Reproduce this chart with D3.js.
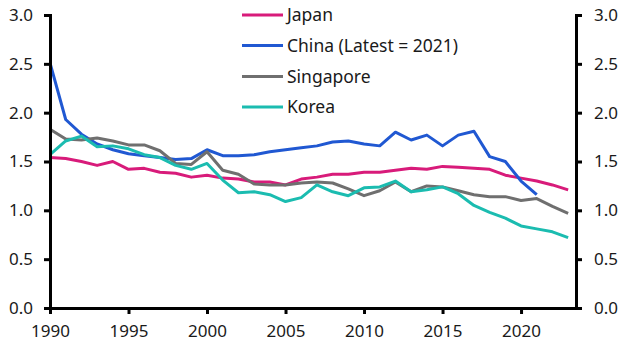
<!DOCTYPE html>
<html><head><meta charset="utf-8">
<script src="https://cdn.jsdelivr.net/npm/d3@7"></script>
<style>
html,body{margin:0;padding:0;background:#fff;}
svg text{font-family:"Noto Sans","Open Sans",sans-serif;fill:#1a1a1a;}
</style></head><body>
<svg id="chart" width="632" height="359"></svg>
<script>
const years = d3.range(1990, 2024);
const japan = [1.54,1.53,1.50,1.46,1.50,1.42,1.43,1.39,1.38,1.34,1.36,1.33,1.32,1.29,1.29,1.26,1.32,1.34,1.37,1.37,1.39,1.39,1.41,1.43,1.42,1.45,1.44,1.43,1.42,1.36,1.33,1.30,1.26,1.21];
const china = [2.51,1.93,1.78,1.68,1.62,1.58,1.56,1.54,1.52,1.53,1.62,1.56,1.56,1.57,1.60,1.62,1.64,1.66,1.70,1.71,1.68,1.66,1.80,1.72,1.77,1.66,1.77,1.81,1.55,1.50,1.30,1.16];
const singapore = [1.83,1.73,1.72,1.74,1.71,1.67,1.67,1.61,1.48,1.47,1.60,1.41,1.37,1.27,1.26,1.26,1.28,1.29,1.28,1.22,1.15,1.20,1.29,1.19,1.25,1.24,1.20,1.16,1.14,1.14,1.10,1.12,1.04,0.97];
const korea = [1.57,1.71,1.76,1.65,1.66,1.63,1.57,1.54,1.46,1.42,1.48,1.31,1.18,1.19,1.16,1.09,1.13,1.26,1.19,1.15,1.23,1.24,1.30,1.19,1.21,1.24,1.17,1.05,0.98,0.92,0.84,0.81,0.78,0.72];
const seriesNames = ["Japan","China (Latest = 2021)","Singapore","Korea"];
const seriesColors = ["#d81b7a","#2058d2","#6f6f6f","#1bbcb0"];
const xTicks = [1990,1995,2000,2005,2010,2015,2020];
const yTicks = [0,0.5,1.0,1.5,2.0,2.5,3.0];

(function(){
const seriesData = [japan, china, singapore, korea];
const svg = d3.select("#chart");
const mL = 50, mR = 576, mT = 15, mB = 308;
const x = d3.scaleLinear().domain([1990, 2023.5]).range([mL, mR]);
const y = d3.scaleLinear().domain([0, 3]).range([mB, mT]);

const line = d3.line().x(d => x(d[0])).y(d => y(d[1]));
seriesData.forEach((vals, i) => {
  const pts = vals.map((v, j) => [years[j], v]);
  svg.append("path").datum(pts).attr("d", line)
    .attr("fill", "none").attr("stroke", seriesColors[i])
    .attr("stroke-width", 3).attr("stroke-linejoin", "round");
});

function styleAxis(g){
  g.selectAll("path.domain").attr("stroke","#000").attr("stroke-width",3);
  g.selectAll(".tick line").attr("stroke","#000").attr("stroke-width",3);
  g.selectAll(".tick text").style("font-size","17px").attr("fill","#1a1a1a");
}
const fmt = d3.format(".1f");
svg.append("g").attr("transform",`translate(${mL},0)`)
  .call(d3.axisLeft(y).tickValues(yTicks).tickFormat(fmt).tickSize(6).tickSizeOuter(6).tickPadding(11))
  .call(styleAxis);
svg.append("g").attr("transform",`translate(${mR},0)`)
  .call(d3.axisRight(y).tickValues(yTicks).tickFormat(fmt).tickSize(6).tickSizeOuter(6).tickPadding(12))
  .call(styleAxis);
svg.append("g").attr("transform",`translate(0,${mB})`)
  .call(d3.axisBottom(x).tickValues(xTicks).tickFormat(d3.format("d")).tickSize(6).tickSizeOuter(0).tickPadding(11))
  .call(styleAxis);

const legendY = [15, 45.5, 76.5, 107];
seriesNames.forEach((name, i) => {
  const g = svg.append("g");
  g.append("line").attr("x1",242).attr("x2",283).attr("y1",legendY[i]).attr("y2",legendY[i])
    .attr("stroke",seriesColors[i]).attr("stroke-width",3);
  g.append("text").attr("x",287).attr("y",legendY[i]).attr("dy","0.35em")
    .style("font-size","17.5px").text(name);
});
})();
</script>
</body></html>
